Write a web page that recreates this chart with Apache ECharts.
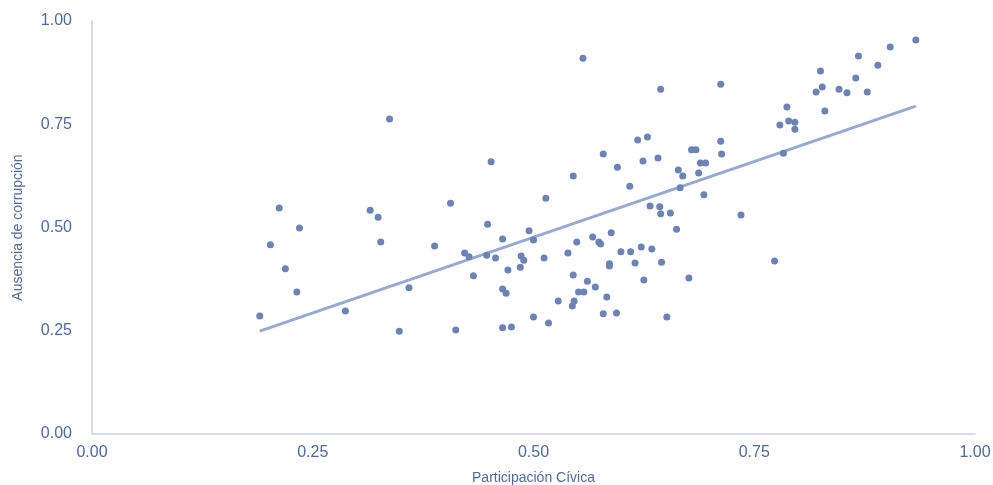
<!DOCTYPE html>
<html>
<head>
<meta charset="utf-8">
<script src="https://cdn.jsdelivr.net/npm/echarts@6/dist/echarts.min.js"></script>
<style>html,body{margin:0;padding:0;background:#fff}#c{width:993px;height:485px}</style>
</head>
<body>
<div id="c"></div>
<script>
var xTicks = ['0.00','0.25','0.50','0.75','1.00'];
var civic = [0.337,0.212,0.235,0.202,0.219,0.232,0.190,0.287,0.315,0.324,0.327,0.348,0.359,0.388,0.406,0.412,0.422,0.427,0.432,0.448,0.452,0.447,
0.556,0.618,0.579,0.595,0.545,0.609,0.514,0.495,0.465,0.500,0.549,0.567,0.574,0.576,0.588,0.457,0.486,0.489,0.512,0.539,0.599,0.610,0.615,0.586,0.586,0.485,0.471,0.545,0.561,0.570,0.465,0.469,0.551,0.557,0.583,0.528,0.546,0.544,0.500,0.579,0.594,0.517,0.465,0.475,
0.644,0.712,0.629,0.624,0.641,0.679,0.684,0.712,0.713,0.689,0.695,0.664,0.669,0.687,0.666,0.693,0.735,0.632,0.643,0.644,0.655,0.662,0.622,0.634,0.645,0.625,0.676,0.773,0.651,
0.933,0.904,0.868,0.890,0.825,0.865,0.827,0.820,0.846,0.855,0.878,0.830,0.787,0.779,0.789,0.796,0.796,0.783];
var corruption = [0.763,0.547,0.499,0.458,0.400,0.344,0.286,0.298,0.542,0.525,0.465,0.249,0.354,0.455,0.559,0.252,0.438,0.429,0.383,0.508,0.659,0.433,
0.910,0.712,0.678,0.646,0.625,0.600,0.571,0.492,0.472,0.470,0.465,0.477,0.465,0.460,0.487,0.426,0.431,0.421,0.426,0.438,0.441,0.441,0.414,0.412,0.407,0.404,0.397,0.385,0.370,0.356,0.351,0.341,0.344,0.344,0.332,0.322,0.322,0.310,0.283,0.291,0.293,0.269,0.257,0.259,
0.835,0.847,0.719,0.661,0.668,0.688,0.688,0.709,0.678,0.656,0.656,0.639,0.625,0.632,0.596,0.579,0.530,0.552,0.550,0.533,0.535,0.496,0.453,0.448,0.416,0.373,0.378,0.419,0.283,
0.954,0.937,0.915,0.893,0.879,0.862,0.840,0.828,0.835,0.826,0.828,0.782,0.792,0.748,0.758,0.755,0.738,0.680];
var trendX = [0.190, 0.933];
var trendY = [0.249, 0.794];

var pts = civic.map(function(x,i){return [x, corruption[i]];});
var trend = trendX.map(function(x,i){return [x, trendY[i]];});

var textColor = '#4d69a8';
var font = 'Liberation Sans, Arial, sans-serif';
var chart = echarts.init(document.getElementById('c'));
chart.setOption({
  animation: false,
  grid: {left: 92, right: 18, top: 21, bottom: 51, outerBoundsMode: 'none', containLabel: false},
  xAxis: {
    type: 'value', min: 0, max: 1, interval: 0.25,
    name: 'Participación Cívica', nameLocation: 'middle', nameGap: 37,
    nameTextStyle: {color: textColor, fontSize: 14, fontFamily: font},
    axisLine: {show: true, lineStyle: {color: '#c9d1e2', width: 1.5}},
    axisTick: {show: false}, splitLine: {show: false},
    axisLabel: {color: textColor, fontSize: 16, fontFamily: font, margin: 11,
      formatter: function(v){return v.toFixed(2);}}
  },
  yAxis: {
    type: 'value', min: 0, max: 1, interval: 0.25,
    name: 'Ausencia de corrupción', nameLocation: 'middle', nameGap: 67,
    nameTextStyle: {color: textColor, fontSize: 14, fontFamily: font},
    axisLine: {show: true, lineStyle: {color: '#c9d1e2', width: 1.5}},
    axisTick: {show: false}, splitLine: {show: false},
    axisLabel: {color: textColor, fontSize: 16, fontFamily: font, margin: 20,
      padding: [3, 0, 0, 0],
      formatter: function(v){return v.toFixed(2);}}
  },
  series: [
    {type: 'line', data: trend, symbol: 'none', z: 1,
     lineStyle: {color: '#94a9d3', width: 3}},
    {type: 'scatter', data: pts, symbolSize: 7, z: 2,
     itemStyle: {color: '#6c83b8', opacity: 1}}
  ]
});
</script>
</body>
</html>
